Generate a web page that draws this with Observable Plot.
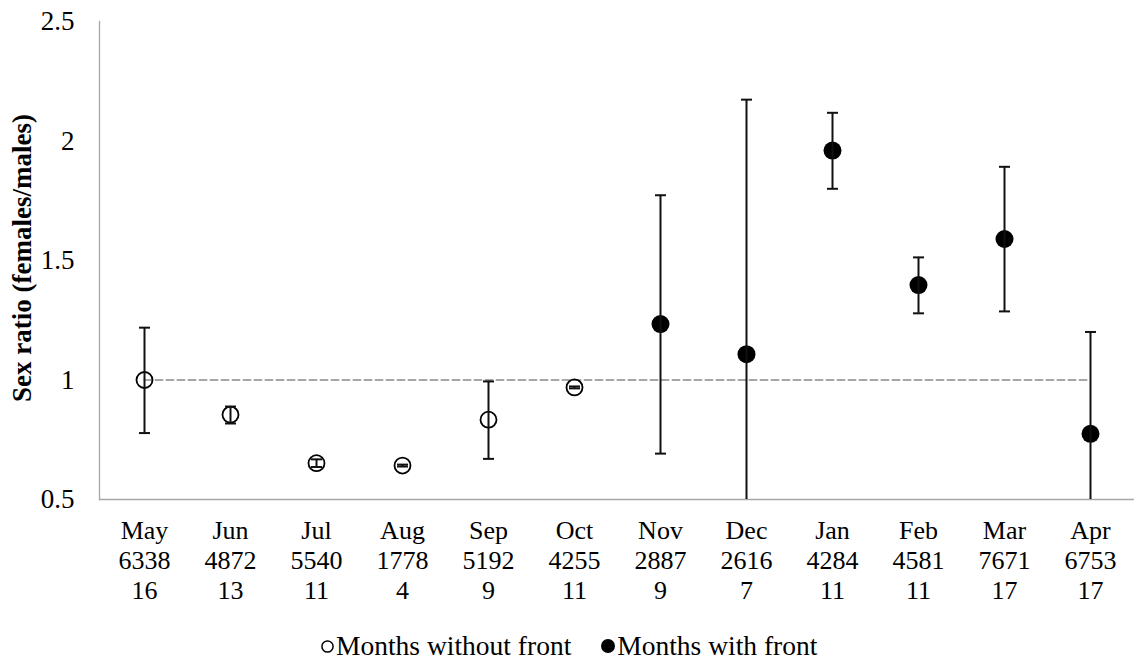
<!DOCTYPE html>
<html>
<head>
<meta charset="utf-8">
<script src="https://cdn.jsdelivr.net/npm/d3@7"></script>
<script src="https://cdn.jsdelivr.net/npm/@observablehq/plot@0.6"></script>
<style>
  html, body { margin: 0; padding: 0; background: #fff; }
  #wrap { position: relative; width: 1134px; height: 662px; font-family: "Liberation Serif", "Times New Roman", serif; }
  #legend { position: absolute; left: 321px; top: 632px; display: flex; align-items: center; font-size: 27.5px; line-height: 28px; color: #000; white-space: nowrap; }
  #legend .item { display: flex; align-items: center; }
  #legend .item + .item { margin-left: 30px; }
  #legend svg { margin-right: 2px; }
</style>
</head>
<body>
<div id="wrap">
  <div id="chart"></div>
  <div id="legend">
    <span class="item"><svg width="13" height="13"><circle cx="6.5" cy="6.5" r="5.6" fill="none" stroke="#000" stroke-width="1.5"/></svg>Months without front</span>
    <span class="item"><svg width="14" height="14"><circle cx="7" cy="7" r="7" fill="#000"/></svg>Months with front</span>
  </div>
</div>
<script>
// Monthly sex ratio (females/males) with confidence limits
const months   = ["May", "Jun", "Jul", "Aug", "Sep", "Oct", "Nov", "Dec", "Jan", "Feb", "Mar", "Apr"];
const counts   = [6338, 4872, 5540, 1778, 5192, 4255, 2887, 2616, 4284, 4581, 7671, 6753];
const samples  = [16, 13, 11, 4, 9, 11, 9, 7, 11, 11, 17, 17];
const ratio    = [1.00, 0.855, 0.652, 0.642, 0.834, 0.969, 1.234, 1.108, 1.96, 1.397, 1.59, 0.775];
const lower    = [0.778, 0.818, 0.636, 0.638, 0.67, 0.965, 0.692, 0.043, 1.80, 1.279, 1.287, 0.349];
const upper    = [1.219, 0.889, 0.668, 0.646, 0.994, 0.973, 1.773, 2.173, 2.118, 1.513, 1.892, 1.201];
const front    = [false, false, false, false, false, false, true, true, true, true, true, true];
const yTicks   = [0.5, 1, 1.5, 2, 2.5];

const rows = months.map((m, i) => ({month: m, ratio: ratio[i], lo: lower[i], hi: upper[i], front: front[i]}));
const parity = [{month: months[0], v: 1}, {month: months[months.length - 1], v: 1}];

// short horizontal stroke used as the error-bar cap
const cap = {draw(ctx) { ctx.moveTo(-5.5, 0); ctx.lineTo(5.5, 0); }};

const font = "Liberation Serif, Times New Roman, serif";

const chart = Plot.plot({
  width: 1134,
  height: 614,
  marginLeft: 99,
  marginRight: 0,
  marginTop: 21,
  marginBottom: 115,
  style: {fontFamily: font, color: "#000", background: "#fff"},
  x: {type: "point", domain: months, range: [141.7, 1093.3], padding: 0},
  y: {domain: [0.5, 2.5]},
  marks: [
    Plot.frame({anchor: "left", stroke: "#a6a6a6", strokeWidth: 1.3}),
    Plot.ruleY([0.5], {stroke: "#a6a6a6", strokeWidth: 1.3}),
    Plot.lineY(parity, {x: "month", y: "v", stroke: "#a6a6a6", strokeWidth: 2, strokeDasharray: "7,4"}),
    Plot.dot(rows.filter(d => !d.front), {x: "month", y: "ratio", r: 8, fill: "none", stroke: "#000", strokeWidth: 1.8}),
    Plot.dot(rows.filter(d => d.front), {x: "month", y: "ratio", r: 9, fill: "#000", stroke: "none"}),
    Plot.ruleX(rows, {x: "month", y1: "lo", y2: "hi", stroke: "#111", strokeWidth: 2, clip: "frame"}),
    Plot.dot(rows, {x: "month", y: "lo", symbol: cap, stroke: "#111", strokeWidth: 2, clip: "frame"}),
    Plot.dot(rows, {x: "month", y: "hi", symbol: cap, stroke: "#111", strokeWidth: 2, clip: "frame"}),
    Plot.axisY({ticks: yTicks, tickFormat: d => String(d), tickSize: 0, tickPadding: 25, fontSize: 27, label: null}),
    Plot.axisX({
      tickSize: 0,
      tickPadding: 18,
      fontSize: 26,
      lineHeight: 1.155,
      label: null,
      tickFormat: d => { const i = months.indexOf(d); return `${d}\n${counts[i]}\n${samples[i]}`; }
    }),
    Plot.text(["Sex ratio (females/males)"], {
      frameAnchor: "left", text: d => d, rotate: -90, dx: -77, dy: -2.5,
      textAnchor: "middle", lineAnchor: "middle",
      fontSize: 27, fontWeight: "bold", fill: "#000"
    })
  ]
});
document.getElementById("chart").appendChild(chart);
</script>
</body>
</html>
